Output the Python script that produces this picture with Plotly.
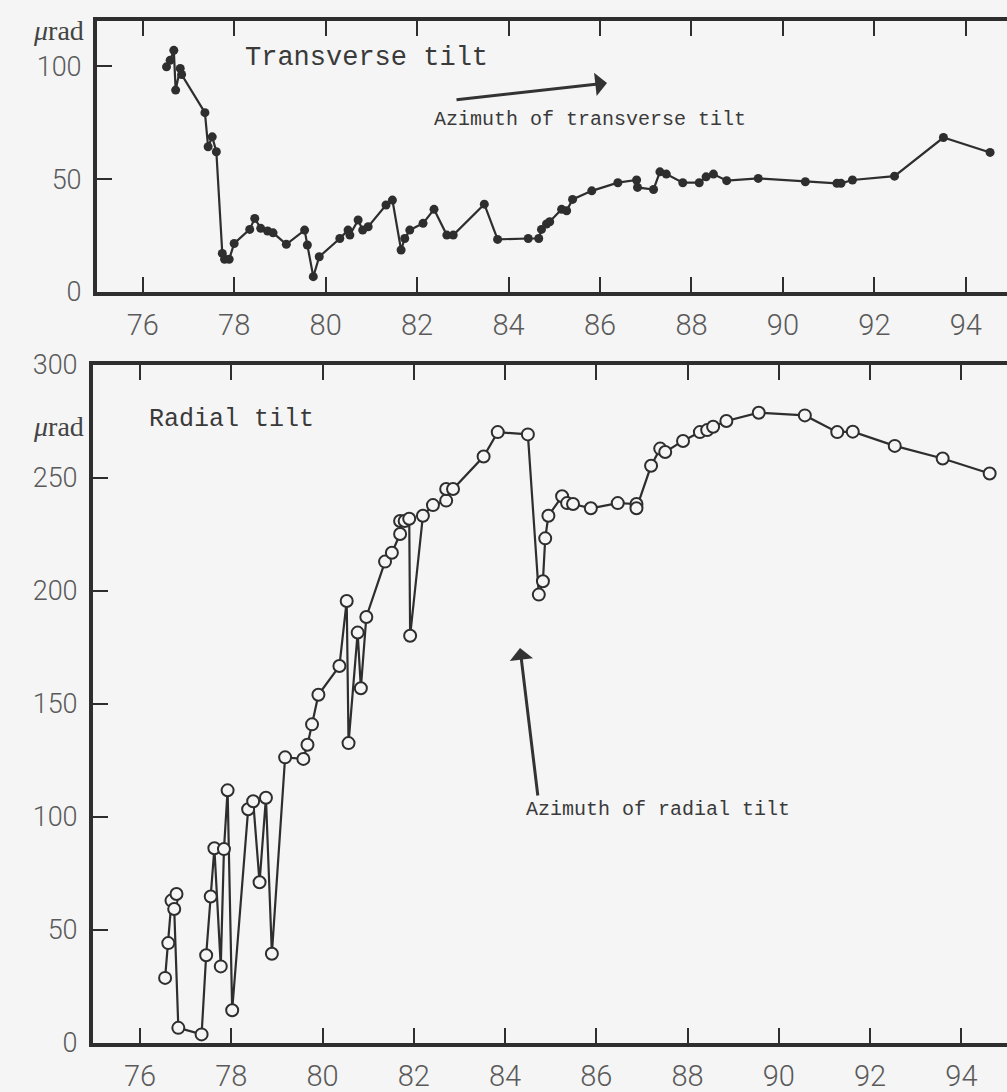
import plotly.graph_objects as go

# Transverse tilt (filled dots), year vs microradians
trans_year = [76.52, 76.60, 76.68, 76.72, 76.82, 76.85, 77.36, 77.43, 77.52, 77.61,
              77.74, 77.79, 77.89, 78.00, 78.34, 78.45, 78.58, 78.73, 78.85, 79.14,
              79.54, 79.60, 79.73, 79.86, 80.31, 80.49, 80.53, 80.71, 80.81, 80.93,
              81.32, 81.46, 81.65, 81.73, 81.84, 82.13, 82.37, 82.65, 82.79, 83.47,
              83.76, 84.43, 84.66, 84.72, 84.83, 84.90, 85.16, 85.27, 85.40, 85.82,
              86.39, 86.80, 86.82, 87.17, 87.31, 87.45, 87.81, 88.17, 88.32, 88.48,
              88.77, 89.46, 90.49, 91.18, 91.27, 91.52, 92.44, 93.51, 94.53]
trans_val = [99.7, 102.6, 107.0, 89.4, 99.0, 96.3, 79.4, 64.3, 68.7, 62.1,
             17.1, 14.5, 14.5, 21.5, 27.7, 32.6, 28.2, 27.0, 26.2, 21.1,
             27.4, 20.8, 6.8, 15.6, 23.7, 27.4, 25.2, 31.9, 27.4, 28.9,
             38.5, 40.7, 18.6, 23.7, 27.4, 30.4, 36.6, 25.2, 25.2, 38.9,
             23.3, 23.7, 23.7, 27.7, 30.1, 31.1, 36.6, 36.0, 41.0, 44.8,
             48.4, 49.6, 46.3, 45.4, 53.2, 52.2, 48.4, 48.4, 51.0, 52.2,
             49.3, 50.3, 48.8, 48.1, 48.1, 49.6, 51.3, 68.4, 61.8]

# Radial tilt (open circles)
radial_year = [76.55, 76.62, 76.69, 76.80, 76.75, 76.84, 77.35, 77.45, 77.55, 77.63,
               77.77, 77.84, 77.92, 78.02, 78.37, 78.48, 78.62, 78.76, 78.89, 79.18,
               79.58, 79.67, 79.77, 79.91, 80.37, 80.53, 80.57, 80.77, 80.84, 80.96,
               81.37, 81.52, 81.70, 81.70, 81.80, 81.90, 81.92, 82.20, 82.42, 82.71,
               82.71, 82.86, 83.53, 83.84, 84.50, 84.74, 84.83, 84.88, 84.95, 85.25,
               85.36, 85.49, 85.88, 86.47, 86.88, 86.88, 87.20, 87.40, 87.51, 87.90,
               88.27, 88.43, 88.56, 88.85, 89.56, 90.57, 91.28, 91.62, 92.54, 93.59,
               94.62]
radial_val = [28.8, 44.2, 63.0, 65.9, 59.3, 6.7, 3.8, 38.8, 64.8, 86.2,
              33.9, 85.8, 111.8, 14.5, 103.4, 107.0, 71.1, 108.5, 39.5, 126.4,
              125.7, 132.0, 141.0, 154.1, 166.8, 195.6, 132.7, 181.6, 157.0, 188.5,
              213.0, 216.9, 225.2, 231.0, 231.0, 232.0, 180.2, 233.3, 238.0, 240.0,
              245.1, 245.1, 259.5, 270.3, 269.3, 198.4, 204.3, 223.3, 233.3, 241.9,
              238.9, 238.5, 236.6, 238.9, 238.5, 236.6, 255.4, 263.0, 261.5, 266.4,
              270.3, 271.2, 272.7, 275.2, 278.9, 277.7, 270.3, 270.5, 264.2, 258.6,
              252.0]

x_ticks = [76, 78, 80, 82, 84, 86, 88, 90, 92, 94]
trans_ticks = [0, 50, 100]
radial_ticks = [0, 50, 100, 150, 200, 250, 300]

W, H = 1007, 1092
BG = "#f5f5f5"
INK = "#2e2e2e"
LABEL = "#5a5a5a"


def px(x):
    return x / W


def py(y):
    return 1 - y / H


fig = go.Figure()

fig.add_trace(go.Scatter(
    x=trans_year, y=trans_val, mode="lines+markers",
    line=dict(color=INK, width=2.2),
    marker=dict(size=9, color=INK),
    xaxis="x", yaxis="y", showlegend=False, hoverinfo="skip",
))

fig.add_trace(go.Scatter(
    x=radial_year, y=radial_val, mode="lines+markers",
    line=dict(color=INK, width=2.2),
    marker=dict(size=12, color=BG, line=dict(color=INK, width=2)),
    xaxis="x2", yaxis="y2", showlegend=False, hoverinfo="skip",
))

tick_font = dict(family="Roboto, Liberation Sans, sans-serif", size=29, color=LABEL, weight=300)
ytick_font = dict(family="Roboto, Liberation Sans, sans-serif", size=27, color=LABEL, weight=300)

xcommon = dict(
    tickvals=x_ticks, ticks="inside", ticklen=15, tickwidth=2, tickcolor=INK,
    showline=True, linewidth=4, linecolor=INK, mirror="ticks", automargin=False,
    showgrid=False, zeroline=False, tickfont=tick_font, ticklabelstandoff=4,
)
ycommon = dict(
    ticks="inside", ticklen=15, tickwidth=2, tickcolor=INK, automargin=False,
    showline=True, linewidth=4, linecolor=INK,
    showgrid=False, zeroline=False, tickfont=ytick_font, ticklabelstandoff=6,
)

fig.update_layout(
    width=W, height=H,
    margin=dict(l=0, r=0, t=0, b=0, autoexpand=False),
    paper_bgcolor=BG, plot_bgcolor=BG,
    xaxis=dict(domain=[px(97), 1], range=[75.0, 94.9], anchor="y", **xcommon),
    yaxis=dict(domain=[py(292), py(21)], range=[0, 120], anchor="x",
               tickvals=trans_ticks, **ycommon),
    xaxis2=dict(domain=[px(93), 1], range=[74.97, 95.0], anchor="y2", **xcommon),
    yaxis2=dict(domain=[py(1043), py(365)], range=[0, 300], anchor="x2",
                tickvals=radial_ticks, **ycommon),
)

mono = "Liberation Mono, DejaVu Sans Mono, monospace"
serif = "Liberation Serif, DejaVu Serif, serif"

annots = [
    dict(text="<i>μ</i>rad", x=px(86), y=py(30), xanchor="right", yanchor="middle",
         font=dict(family=serif, size=28, color="#444")),
    dict(text="<i>μ</i>rad", x=px(86), y=py(427), xanchor="right", yanchor="middle",
         font=dict(family=serif, size=28, color="#444")),
    dict(text="Transverse tilt", x=px(243), y=py(58), xanchor="left", yanchor="middle",
         font=dict(family=mono, size=27, color="#3a3a3a")),
    dict(text="Azimuth of transverse tilt", x=px(432), y=py(119), xanchor="left",
         yanchor="middle", font=dict(family=mono, size=20, color="#3a3a3a")),
    dict(text="Radial tilt", x=px(147), y=py(420), xanchor="left", yanchor="middle",
         font=dict(family=mono, size=25, color="#3a3a3a")),
    dict(text="Azimuth of radial tilt", x=px(524), y=py(809), xanchor="left",
         yanchor="middle", font=dict(family=mono, size=20, color="#3a3a3a")),
]
for a in annots:
    fig.add_annotation(xref="paper", yref="paper", showarrow=False, **a)

# direction arrows
fig.add_annotation(xref="paper", yref="paper", x=px(607), y=py(83), ax=455 - 607, ay=100 - 83,
                   axref="pixel", ayref="pixel", text="", showarrow=True,
                   arrowhead=1, arrowsize=1.3, arrowwidth=3, arrowcolor="#333")
fig.add_annotation(xref="paper", yref="paper", x=px(520), y=py(648), ax=538 - 520, ay=797 - 648,
                   axref="pixel", ayref="pixel", text="", showarrow=True,
                   arrowhead=1, arrowsize=1.3, arrowwidth=3, arrowcolor="#333")

fig.write_html("out.html")
